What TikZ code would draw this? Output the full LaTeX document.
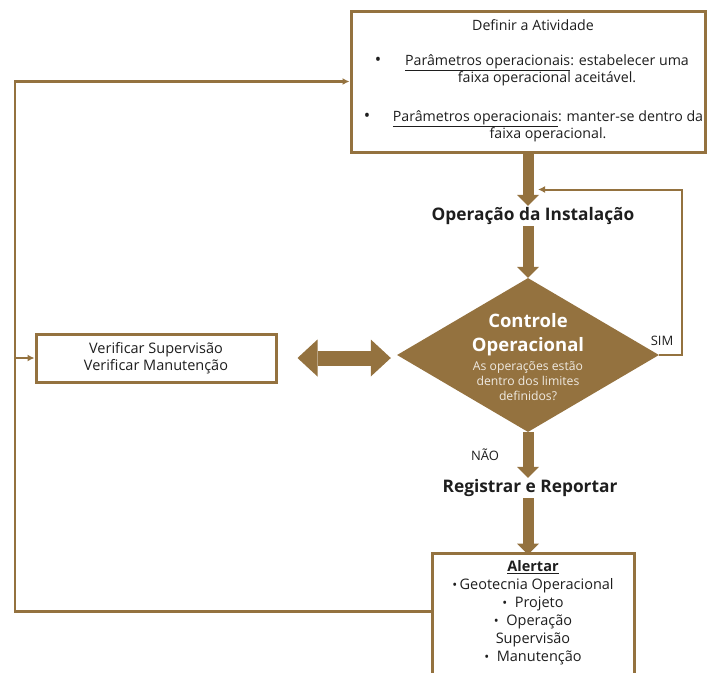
\documentclass[tikz,border=0pt]{standalone}
\usepackage{fontspec}
\setmainfont{Open Sans}
\usetikzlibrary{arrows.meta,positioning,calc,shapes.geometric}
\definecolor{bronze}{HTML}{94723F}
\definecolor{ink}{HTML}{1E1E1E}
\newcommand{\bul}{\textbullet}
\tikzset{frame/.style={draw=bronze,line width=3pt,fill=white},bigarrow/.style={draw=bronze,line width=11pt,-{Triangle[width=22pt,length=11pt,line width=0pt]}},feed/.style={draw=bronze,line width=2.2pt,-{Latex[length=7pt,width=7pt]}},heading/.style={font=\fontsize{17.3}{20}\selectfont\bfseries,text=ink},body/.style={font=\fontsize{14.2}{17}\selectfont,text=ink},every picture/.style={>=Latex}}

\begin{document}
\begin{tikzpicture}[x=1pt,y=-1pt]
  \useasboundingbox (0,0) rectangle (708,672);
  \clip (0,0) rectangle (708,672);
  % top: activity definition
  \node[frame,minimum width=354pt,minimum height=141pt] (def) at (528,81.5) {};
  \node[body] (deftitle) at (533,25) {Definir a Atividade};
  \node[body,font=\fontsize{17}{18}\selectfont] (b1) at (378,61) {\bul};
  \node[body,align=center] (par1) at (547,70) {\underline{Parâmetros operacionais}: estabelecer uma\\faixa operacional aceitável.};
  \node[body,font=\fontsize{17}{18}\selectfont] (b2) at (367,117) {\bul};
  \node[body,align=center] (par2) at (548,126) {\underline{Parâmetros operacionais}: manter-se dentro da\\faixa operacional.};
  % main flow
  \node[heading] (ops) at (533,216) {Operação da Instalação};
  \node[diamond,fill=bronze,minimum width=262pt,minimum height=154pt,inner sep=0pt] (ctrl) at (528,355) {};
  \node[align=center,text=white,font=\fontsize{18.5}{24}\selectfont\bfseries] (ctrlhead) at (528,335) {Controle\\Operacional};
  \node[align=center,text=white!85!bronze,font=\fontsize{12.2}{15}\selectfont] (ctrlq) at (528,381) {As operações estão\\dentro dos limites\\definidos?};
  \node[body,font=\fontsize{13}{14}\selectfont] (sim) at (662,341) {SIM};
  \node[body,font=\fontsize{13}{14}\selectfont] (nao) at (485,455) {NÃO};
  \node[heading] (reg) at (530,488) {Registrar e Reportar};
  % alert box
  \node[frame,minimum width=202pt,minimum height=150pt] (alert) at (533,628) {};
  \node[body,align=center,anchor=north,font=\fontsize{14.5}{18}\selectfont] (alertlist) at (533,557) {\textbf{\underline{Alertar}}\\{\fontsize{13}{13}\selectfont\bul}\,Geotecnia Operacional\\{\fontsize{13}{13}\selectfont\bul}\ \ Projeto\\{\fontsize{13}{13}\selectfont\bul}\ \ Operação\\Supervisão\\{\fontsize{13}{13}\selectfont\bul}\ \ Manutenção};
  % checks
  \node[frame,body,font=\fontsize{14.5}{17}\selectfont,minimum width=240pt,minimum height=48pt,align=center] (verif) at (156,358) {Verificar Supervisão\\Verificar Manutenção};
  % connectors
  \draw[bigarrow] (def.south) -- ([yshift=-2pt]def.south |- ops.north);
  \draw[bigarrow] ([yshift=2pt]ops.south -| ctrl.north) -- (ctrl.north);
  \draw[bigarrow] (ctrl.south) -- ([yshift=-2pt]ctrl.south |- reg.north);
  \draw[bigarrow] ([yshift=2pt]reg.south -| ctrl.south) -- ([yshift=-3pt]ctrl.south |- alert.north);
  \draw[draw=bronze,line width=15pt,{Triangle[width=37pt,length=20pt,line width=0pt]}-{Triangle[width=37pt,length=20pt,line width=0pt]},shorten <=20pt,shorten >=6pt] (verif.east) -- (verif.east -| ctrl.west);
  \draw[feed,line width=2pt] (ctrl.east) -- ++(23,0) |- ($(def.south)+(10,36)$);
  \coordinate (rail) at (15,0);
  \draw[feed] ($(alert.north west)+(0,60)$) -| (rail |- def.west) -- (def.west);
  \draw[feed] (rail |- verif.west) -- (verif.west);
\end{tikzpicture}
\end{document}
